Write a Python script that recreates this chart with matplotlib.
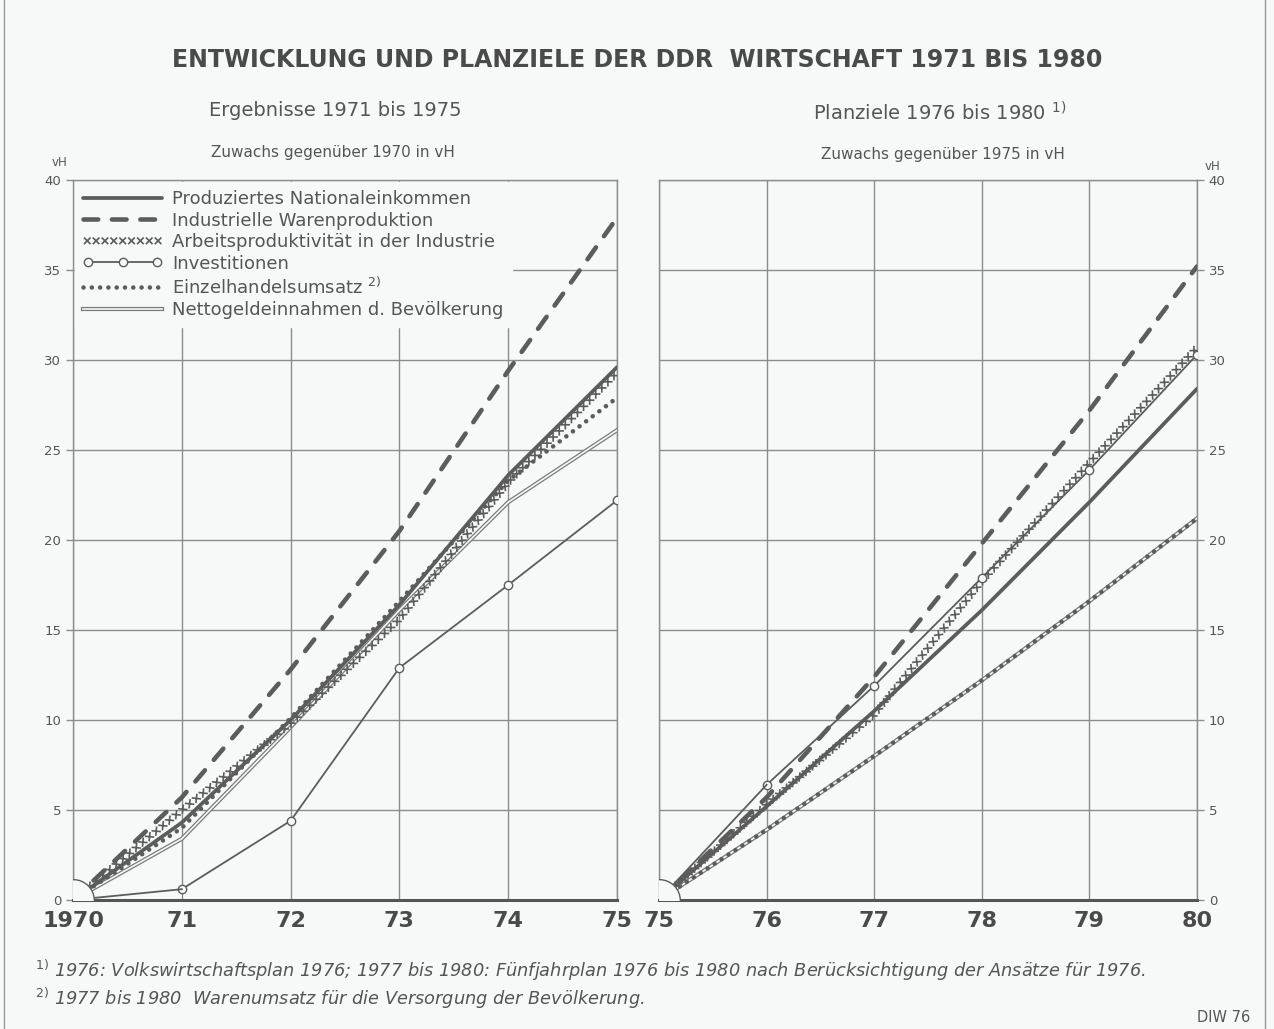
#!/usr/bin/env python3

import matplotlib
matplotlib.use("Agg")
from matplotlib import pyplot as plt
from matplotlib import patheffects
from matplotlib.lines import Line2D
from matplotlib.legend_handler import HandlerLine2D, HandlerTuple

# Ergebnisse 1971 bis 1975 (Zuwachs gegenueber 1970 in vH)
years_left = [1970, 1971, 1972, 1973, 1974, 1975]
nat_left = [0, 4.3, 10.0, 16.4, 23.6, 29.6]
ind_left = [0, 5.7, 12.8, 20.5, 29.4, 37.9]
arb_left = [0, 5.0, 9.8, 15.6, 23.2, 29.3]
inv_left = [0, 0.6, 4.4, 12.9, 17.5, 22.2]
ezh_left = [0, 4.0, 10.1, 16.6, 23.3, 27.9]
net_left = [0, 3.4, 9.6, 16.1, 22.1, 26.1]

# Planziele 1976 bis 1980 (Zuwachs gegenueber 1975 in vH)
years_right = [1975, 1976, 1977, 1978, 1979, 1980]
nat_right = [0, 5.2, 10.5, 16.1, 22.1, 28.4]
ind_right = [0, 5.7, 12.4, 19.8, 27.2, 35.2]
arb_right = [0, 5.3, 10.3, 17.7, 24.3, 30.7]
inv_right = [0, 6.4, 11.9, 17.9, 23.9, 30.3]
ezh_right = [0, 3.9, 8.0, 12.2, 16.6, 21.2]
net_right = [0, 3.9, 8.0, 12.2, 16.6, 21.2]

xlabels_left = ["1970", "71", "72", "73", "74", "75"]
xlabels_right = ["75", "76", "77", "78", "79", "80"]
yticks = [0, 5, 10, 15, 20, 25, 30, 35, 40]

labels = ["Produziertes Nationaleinkommen",
          "Industrielle Warenproduktion",
          "Arbeitsproduktivität in der Industrie",
          "Investitionen",
          "Einzelhandelsumsatz $^{2)}$",
          "Nettogeldeinnahmen d. Bevölkerung"]

BG = "#f7f9f9"
LINE = "#5c5c5c"
TEXT = "#555555"
GRID = "#8c8c8c"

plt.rcParams["font.family"] = ["DejaVu Sans"]

fig = plt.figure(figsize=(12.74, 10.29), dpi=100, facecolor=BG)

W, H = 1274.0, 1029.0
axl = fig.add_axes([73 / W, 1 - 900 / H, 544 / W, 720 / H])
axr = fig.add_axes([659 / W, 1 - 900 / H, 538 / W, 720 / H])

xstroke = [patheffects.TickedStroke(spacing=6.2, angle=a, length=0.45,
                                    linewidth=1.2, foreground=LINE)
           for a in (45, -135, 135, -45)]


def draw(ax, years, nat, ind, arb, inv, ezh, net):
    ax.set_facecolor(BG)
    h_nat, = ax.plot(years, nat, color=LINE, lw=2.7, solid_capstyle="round",
                     zorder=5)
    h_ind, = ax.plot(years, ind, color=LINE, lw=3.3,
                     linestyle=(0, (3.2, 3.0)), dash_capstyle="round", zorder=5)
    h_arb, = ax.plot(years, arb, color=LINE, lw=1.0, zorder=5,
                     path_effects=xstroke)
    h_inv, = ax.plot(years[1:], inv[1:], color=LINE, lw=1.3, marker="o",
                     ms=6, mfc=BG, mec=LINE, mew=1.0, zorder=6)
    ax.plot(years[:2], inv[:2], color=LINE, lw=1.3, zorder=6)
    h_net1, = ax.plot(years, net, color="#7a7a7a", lw=3.0, zorder=4)
    h_net2, = ax.plot(years, net, color=BG, lw=1.2, zorder=4)
    h_ezh, = ax.plot(years, ezh, color=LINE, lw=3.3,
                     linestyle=(0, (0.01, 1.8)), dash_capstyle="round",
                     zorder=5)
    # quarter circle at the origin
    ax.plot([years[0]], [0], marker="o", ms=30, mfc=BG, mec=LINE, mew=1.0,
            zorder=8, clip_on=True)

    ax.set_xlim(years[0], years[-1])
    ax.set_ylim(0, 40)
    ax.set_xticks(years)
    ax.set_yticks(yticks)
    ax.grid(True, color=GRID, lw=1.0)
    ax.set_axisbelow(True)
    for s in ax.spines.values():
        s.set_color(GRID)
        s.set_linewidth(1.0)
    ax.spines["bottom"].set_color("#555555")
    ax.spines["bottom"].set_linewidth(2.2)
    ax.tick_params(axis="x", length=0, pad=8, labelsize=16, labelcolor="#4a4a4a")
    ax.tick_params(axis="y", length=5, width=1, color=GRID, labelsize=9.5,
                   labelcolor=TEXT)
    return h_nat, h_ind, h_arb, h_inv, h_ezh, (h_net1, h_net2)


handles = draw(axl, years_left, nat_left, ind_left, arb_left, inv_left,
               ezh_left, net_left)
draw(axr, years_right, nat_right, ind_right, arb_right, inv_right,
     ezh_right, net_right)

axl.set_xticklabels(xlabels_left, fontweight="bold")
axr.set_xticklabels(xlabels_right, fontweight="bold")
axr.yaxis.tick_right()
axr.tick_params(axis="y", length=5, width=1, color=GRID, labelsize=9.5,
                labelcolor=TEXT)

leg = axl.legend(handles, labels, loc="upper left", bbox_to_anchor=(0.0, 1.0),
                 borderaxespad=0.1, borderpad=0.45, fontsize=13,
                 handlelength=4.4, handletextpad=0.55, labelspacing=0.2,
                 frameon=True, facecolor=BG, edgecolor=BG, framealpha=1.0,
                 fancybox=False, labelcolor=TEXT,
                 handler_map={handles[3]: HandlerLine2D(numpoints=3),
                              tuple: HandlerTuple(ndivide=1)})
leg.set_zorder(10)

# titles
fig.text(0.5, 1 - 60 / H, "ENTWICKLUNG UND PLANZIELE DER DDR  WIRTSCHAFT 1971 BIS 1980",
         ha="center", va="center", fontsize=17, fontweight="bold", color="#4a4a4a")
fig.text(335 / W, 1 - 110 / H, "Ergebnisse 1971 bis 1975", ha="center", va="center",
         fontsize=14, color=TEXT)
fig.text(940 / W, 1 - 113 / H, "Planziele 1976 bis 1980 $^{1)}$", ha="center",
         va="center", fontsize=14, color=TEXT)
fig.text(333 / W, 1 - 152 / H, "Zuwachs gegenüber 1970 in vH", ha="center",
         va="center", fontsize=11, color=TEXT)
fig.text(943 / W, 1 - 155 / H, "Zuwachs gegenüber 1975 in vH", ha="center",
         va="center", fontsize=11, color=TEXT)
fig.text(60 / W, 1 - 163 / H, "vH", ha="center", va="center", fontsize=8.5,
         color=TEXT)
fig.text(1213 / W, 1 - 166 / H, "vH", ha="center", va="center", fontsize=8.5,
         color=TEXT)

# footnotes
fig.text(35 / W, 1 - 970 / H,
         "$^{1)}$ 1976: Volkswirtschaftsplan 1976; 1977 bis 1980: Fünfjahrplan 1976 "
         "bis 1980 nach Berücksichtigung der Ansätze für 1976.",
         ha="left", va="center", fontsize=12.8, style="italic", color=TEXT)
fig.text(35 / W, 1 - 998 / H,
         "$^{2)}$ 1977 bis 1980  Warenumsatz für die Versorgung der Bevölkerung.",
         ha="left", va="center", fontsize=12.8, style="italic", color=TEXT)
fig.text(1250 / W, 1 - 1017 / H, "DIW 76", ha="right", va="center",
         fontsize=10.5, color=TEXT)

# outer frame lines
fig.add_artist(Line2D([4 / W, 4 / W], [0, 1], color="#999999", lw=1.0))
fig.add_artist(Line2D([1265 / W, 1265 / W], [0, 1], color="#999999", lw=1.0))

fig.savefig("out.png", dpi=100, facecolor=BG)
